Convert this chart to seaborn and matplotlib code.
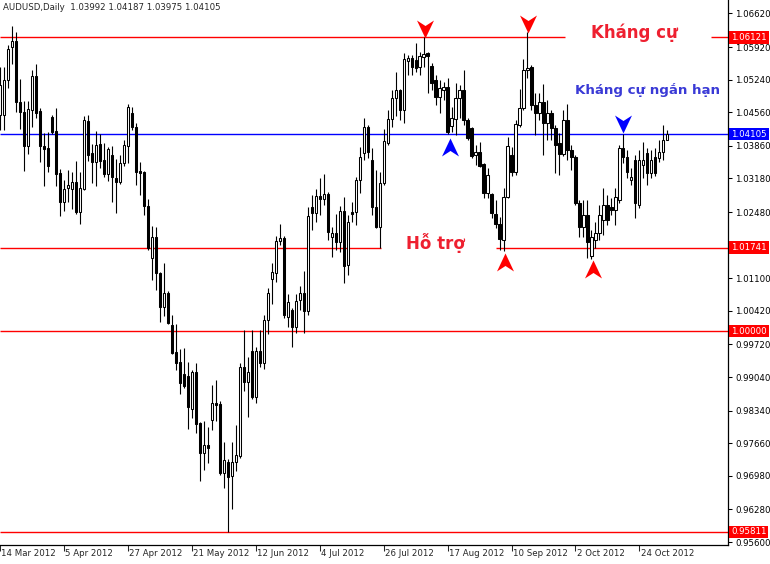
import numpy as np
import pandas as pd
import matplotlib
matplotlib.use("Agg")
import matplotlib.pyplot as plt
import matplotlib.transforms as mtransforms
from matplotlib.path import Path
import seaborn as sns

# AUDUSD daily candles, 14 Mar 2012 .. 2 Nov 2012
opens = [1.0450, 1.0450, 1.0523, 1.0592, 1.0604, 1.0477, 1.0457, 1.0386, 1.0461, 1.0531,
         1.0459, 1.0386, 1.0381, 1.0446, 1.0417, 1.0329, 1.0269, 1.0298, 1.0296, 1.0310,
         1.0248, 1.0296, 1.0438, 1.0371, 1.0352, 1.0390, 1.0356, 1.0327, 1.0367, 1.0319,
         1.0310, 1.0350, 1.0386, 1.0455, 1.0425, 1.0333, 1.0331, 1.0260, 1.0152, 1.0196,
         1.0121, 1.0050, 1.0079, 1.0013, 0.9956, 0.9935, 0.9910, 0.9906, 0.9837, 0.9915,
         0.9808, 0.9746, 0.9762, 0.9815, 0.9850, 0.9848, 0.9704, 0.9727, 0.9698, 0.9727,
         0.9740, 0.9925, 0.9894, 0.9958, 0.9862, 0.9958, 0.9933, 1.0023, 1.0108, 1.0121,
         1.0188, 1.0194, 1.0029, 1.0044, 1.0008, 1.0065, 1.0079, 1.0042, 1.0258, 1.0246,
         1.0281, 1.0275, 1.0286, 1.0196, 1.0204, 1.0185, 1.0250, 1.0138, 1.0248, 1.0248,
         1.0315, 1.0371, 1.0425, 1.0356, 1.0258, 1.0217, 1.0308, 1.0392, 1.0442, 1.0486,
         1.0502, 1.0461, 1.0563, 1.0569, 1.0565, 1.0550, 1.0571, 1.0579, 1.0552, 1.0523,
         1.0488, 1.0502, 1.0508, 1.0427, 1.0442, 1.0486, 1.0502, 1.0440, 1.0423, 1.0367,
         1.0373, 1.0348, 1.0288, 1.0286, 1.0244, 1.0223, 1.0190, 1.0279, 1.0367, 1.0331,
         1.0430, 1.0465, 1.0544, 1.0550, 1.0471, 1.0455, 1.0477, 1.0434, 1.0455, 1.0423,
         1.0392, 1.0369, 1.0440, 1.0377, 1.0363, 1.0267, 1.0217, 1.0242, 1.0156, 1.0190,
         1.0204, 1.0231, 1.0263, 1.0258, 1.0252, 1.0273, 1.0381, 1.0363, 1.0315, 1.0356,
         1.0263, 1.0346, 1.0371, 1.0329, 1.0363, 1.0361, 1.0373, 1.03992]
highs = [1.0550, 1.0550, 1.0596, 1.0636, 1.0623, 1.0525, 1.0479, 1.0479, 1.0544, 1.0556,
         1.0465, 1.0413, 1.0415, 1.0450, 1.0465, 1.0338, 1.0315, 1.0336, 1.0331, 1.0354,
         1.0331, 1.0448, 1.0450, 1.0390, 1.0417, 1.0411, 1.0392, 1.0383, 1.0386, 1.0358,
         1.0367, 1.0398, 1.0473, 1.0467, 1.0434, 1.0352, 1.0333, 1.0275, 1.0219, 1.0217,
         1.0123, 1.0142, 1.0083, 1.0033, 1.0015, 0.9962, 0.9965, 0.9935, 0.9919, 0.9933,
         0.9810, 0.9812, 0.9800, 0.9888, 0.9898, 0.9854, 0.9769, 0.9733, 0.9769, 0.9804,
         0.9933, 1.0002, 0.9946, 1.0002, 0.9967, 1.0002, 1.0033, 1.0090, 1.0142, 1.0198,
         1.0223, 1.0198, 1.0077, 1.0048, 1.0077, 1.0094, 1.0125, 1.0258, 1.0283, 1.0296,
         1.0319, 1.0327, 1.0290, 1.0217, 1.0244, 1.0260, 1.0279, 1.0242, 1.0269, 1.0321,
         1.0383, 1.0444, 1.0430, 1.0381, 1.0336, 1.0331, 1.0421, 1.0461, 1.0502, 1.0540,
         1.0504, 1.0579, 1.0575, 1.0575, 1.0600, 1.0581, 1.0612, 1.0581, 1.0558, 1.0533,
         1.0523, 1.0519, 1.0527, 1.0467, 1.0517, 1.0513, 1.0544, 1.0444, 1.0425, 1.0388,
         1.0394, 1.0350, 1.0340, 1.0288, 1.0273, 1.0238, 1.0298, 1.0404, 1.0383, 1.0440,
         1.0504, 1.0567, 1.0623, 1.0554, 1.0496, 1.0496, 1.0515, 1.0481, 1.0461, 1.0430,
         1.0413, 1.0461, 1.0473, 1.0388, 1.0367, 1.0273, 1.0273, 1.0273, 1.0210, 1.0227,
         1.0263, 1.0298, 1.0283, 1.0277, 1.0298, 1.0388, 1.0411, 1.0377, 1.0340, 1.0367,
         1.0377, 1.0394, 1.0381, 1.0377, 1.0381, 1.0398, 1.0430, 1.04187]
lows = [1.0419, 1.0419, 1.0506, 1.0556, 1.0457, 1.0421, 1.0333, 1.0369, 1.0425, 1.0444,
        1.0352, 1.0302, 1.0331, 1.0411, 1.0302, 1.0240, 1.0250, 1.0269, 1.0254, 1.0244,
        1.0223, 1.0294, 1.0354, 1.0308, 1.0302, 1.0340, 1.0321, 1.0313, 1.0269, 1.0246,
        1.0306, 1.0344, 1.0350, 1.0419, 1.0304, 1.0283, 1.0242, 1.0169, 1.0106, 1.0085,
        1.0019, 1.0031, 1.0015, 0.9952, 0.9919, 0.9869, 0.9881, 0.9796, 0.9819, 0.9787,
        0.9687, 0.9710, 0.9725, 0.9794, 0.9812, 0.9700, 0.9673, 0.9581, 0.9629, 0.9708,
        0.9735, 0.9875, 0.9821, 0.9858, 0.9850, 0.9925, 0.9921, 0.9994, 1.0056, 1.0102,
        1.0179, 1.0027, 1.0008, 0.9967, 0.9996, 1.0044, 0.9996, 1.0033, 1.0210, 1.0227,
        1.0242, 1.0263, 1.0190, 1.0154, 1.0169, 1.0165, 1.0100, 1.0117, 1.0227, 1.0221,
        1.0288, 1.0356, 1.0361, 1.0242, 1.0215, 1.0174, 1.0304, 1.0388, 1.0425, 1.0448,
        1.0440, 1.0434, 1.0533, 1.0533, 1.0540, 1.0533, 1.0550, 1.0496, 1.0502, 1.0471,
        1.0455, 1.0481, 1.0411, 1.0415, 1.0409, 1.0444, 1.0430, 1.0398, 1.0361, 1.0346,
        1.0342, 1.0277, 1.0277, 1.0235, 1.0215, 1.0169, 1.0167, 1.0277, 1.0323, 1.0325,
        1.0425, 1.0461, 1.0527, 1.0461, 1.0409, 1.0440, 1.0367, 1.0398, 1.0398, 1.0329,
        1.0325, 1.0365, 1.0356, 1.0336, 1.0263, 1.0196, 1.0196, 1.0152, 1.0150, 1.0173,
        1.0190, 1.0200, 1.0221, 1.0242, 1.0221, 1.0267, 1.0350, 1.0319, 1.0304, 1.0235,
        1.0256, 1.0319, 1.0304, 1.0319, 1.0323, 1.0352, 1.0356, 1.03975]
closes = [1.0513, 1.0523, 1.0588, 1.0604, 1.0477, 1.0457, 1.0386, 1.0463, 1.0531, 1.0455,
          1.0386, 1.0379, 1.0344, 1.0415, 1.0327, 1.0269, 1.0296, 1.0304, 1.0310, 1.0248,
          1.0298, 1.0440, 1.0367, 1.0352, 1.0388, 1.0354, 1.0327, 1.0379, 1.0321, 1.0310,
          1.0350, 1.0388, 1.0467, 1.0425, 1.0331, 1.0329, 1.0260, 1.0173, 1.0196, 1.0121,
          1.0050, 1.0079, 1.0017, 0.9954, 0.9933, 0.9892, 0.9885, 0.9842, 0.9915, 0.9806,
          0.9746, 0.9762, 0.9756, 0.9850, 0.9846, 0.9704, 0.9731, 0.9696, 0.9727, 0.9742,
          0.9925, 0.9894, 0.9915, 0.9862, 0.9958, 0.9933, 1.0023, 1.0079, 1.0123, 1.0188,
          1.0194, 1.0033, 1.0060, 1.0008, 1.0062, 1.0079, 1.0042, 1.0240, 1.0246, 1.0281,
          1.0275, 1.0286, 1.0206, 1.0204, 1.0185, 1.0250, 1.0136, 1.0227, 1.0244, 1.0315,
          1.0363, 1.0425, 1.0373, 1.0258, 1.0217, 1.0308, 1.0396, 1.0442, 1.0486, 1.0502,
          1.0461, 1.0567, 1.0569, 1.0550, 1.0548, 1.0573, 1.0577, 1.0573, 1.0517, 1.0488,
          1.0506, 1.0508, 1.0415, 1.0444, 1.0486, 1.0502, 1.0440, 1.0402, 1.0365, 1.0373,
          1.0344, 1.0288, 1.0325, 1.0246, 1.0223, 1.0192, 1.0279, 1.0386, 1.0331, 1.0432,
          1.0465, 1.0544, 1.0548, 1.0471, 1.0455, 1.0477, 1.0434, 1.0455, 1.0423, 1.0388,
          1.0369, 1.0440, 1.0377, 1.0363, 1.0267, 1.0217, 1.0242, 1.0185, 1.0196, 1.0204,
          1.0242, 1.0263, 1.0231, 1.0252, 1.0279, 1.0381, 1.0363, 1.0331, 1.0321, 1.0267,
          1.0356, 1.0356, 1.0329, 1.0356, 1.0329, 1.0373, 1.0398, 1.04105]

date_labels = ["14 Mar 2012", "5 Apr 2012", "27 Apr 2012", "21 May 2012", "12 Jun 2012",
               "4 Jul 2012", "26 Jul 2012", "17 Aug 2012", "10 Sep 2012", "2 Oct 2012",
               "24 Oct 2012"]
date_bars = [0, 16, 32, 48, 64, 80, 96, 112, 128, 144, 160]

price_ticks = [1.0662, 1.0592, 1.0524, 1.0456, 1.0386, 1.0318, 1.0248, 1.0180, 1.0110,
               1.0042, 0.9972, 0.9904, 0.9834, 0.9766, 0.9698, 0.9628, 0.9560]
# 1.01800 sits under the 1.01741 price box, so its label is left blank
price_labels = ["1.06620", "1.05920", "1.05240", "1.04560", "1.03860", "1.03180", "1.02480",
                "", "1.01100", "1.00420", "0.99720", "0.99040", "0.98340", "0.97660",
                "0.96980", "0.96280", "0.95600"]

# horizontal levels and where each one is drawn (gaps leave room for the notes)
levels = [1.06121, 1.04105, 1.01741, 1.00000, 0.95811]
level_colors = ["#ff0000", "#0000ff", "#ff0000", "#ff0000", "#ff0000"]
level_spans = [[(0, 141.4), (177.9, 183)], [(0, 183)], [(0, 95.4), (124.2, 183)],
               [(0, 183)], [(0, 183)]]

# arrow objects: bar, tip price, pointing down?, colour
arrow_bars = [106.3, 132.1, 112.7, 156.0, 126.4, 148.4]
arrow_prices = [1.0611, 1.0621, 1.0402, 1.0413, 1.0163, 1.0148]
arrow_down = [True, True, False, True, False, False]
arrow_colors = ["#ff0000", "#ff0000", "#0000ff", "#0000ff", "#ff0000", "#ff0000"]

notes = ["Kháng cự", "Kháng cự ngắn hạn", "Hỗ trợ"]
note_bars = [158.8, 162.0, 109.0]
note_prices = [1.0610, 1.0495, 1.0171]
note_colors = ["#ee2030", "#3a3ad6", "#ee2030"]
note_sizes = [12, 9.6, 12]

title = "AUDUSD,Daily  1.03992 1.04187 1.03975 1.04105"

df = pd.DataFrame({"open": opens, "high": highs, "low": lows, "close": closes})
df["bar"] = np.arange(len(df))
up = df["close"] >= df["open"]

sns.set_style("white")
plt.rcParams["font.family"] = ["DejaVu Sans"]

fig = plt.figure(figsize=(7.7, 5.64), dpi=100)
ax = fig.add_axes([0, 19 / 564, 728 / 770, 545 / 564])

# levels
for lv, col, spans in zip(levels, level_colors, level_spans):
    for a, b in spans:
        ax.hlines(lv, a, b, color=col, linewidth=1.0, zorder=1)

# candles
ax.vlines(df["bar"], df["low"], df["high"], color="black", linewidth=0.8, zorder=2)
ax.bar(df["bar"], df["close"] - df["open"], bottom=df["open"], width=0.55,
       color=np.where(up, "white", "black"), edgecolor="black", linewidth=0.75, zorder=3)

# arrows
down_marker = Path([(0, 0), (8.5, 18), (0, 12.5), (-8.5, 18), (0, 0)],
                   [Path.MOVETO, Path.LINETO, Path.LINETO, Path.LINETO, Path.CLOSEPOLY])
up_marker = Path([(0, 0), (8.5, -18), (0, -12.5), (-8.5, -18), (0, 0)],
                 [Path.MOVETO, Path.LINETO, Path.LINETO, Path.LINETO, Path.CLOSEPOLY])
for x, y, d, col in zip(arrow_bars, arrow_prices, arrow_down, arrow_colors):
    ax.scatter([x], [y], s=670, marker=down_marker if d else up_marker,
               color=col, linewidths=0, zorder=5)

# notes
for s, x, y, col, fs in zip(notes, note_bars, note_prices, note_colors, note_sizes):
    ax.text(x, y, s, color=col, fontsize=fs, fontweight="bold", ha="center", va="baseline",
            zorder=5)

ax.set_xlim(0.175, 182.175)
ax.set_ylim(0.9554, 1.0690)

for side in ["left", "top"]:
    ax.spines[side].set_visible(False)
for side in ["right", "bottom"]:
    ax.spines[side].set_visible(True)
    ax.spines[side].set_color("black")
    ax.spines[side].set_linewidth(0.9)

ax.yaxis.tick_right()
ax.set_yticks(price_ticks)
ax.set_yticklabels(price_labels)
ax.tick_params(axis="y", right=True, left=False, direction="out", length=3, width=0.75,
               pad=2, labelsize=6.2, colors="black")
ax.set_xticks(date_bars)
ax.set_xticklabels([])
ax.tick_params(axis="x", bottom=True, direction="out", length=4, width=0.75)

xtrans = mtransforms.blended_transform_factory(ax.transData, ax.transAxes)
for b, lab in zip(date_bars, date_labels):
    ax.text(b + 0.3, -8 / 545, lab, transform=xtrans, ha="left", va="center",
            fontsize=6.2, clip_on=False)

ytrans = mtransforms.blended_transform_factory(ax.transAxes, ax.transData)
for lv, col in zip(levels, level_colors):
    ax.text(1 + 3 / 728, lv, f"{lv:.5f}", transform=ytrans, ha="left", va="center",
            fontsize=6.2, color="white", clip_on=False, zorder=6,
            bbox=dict(boxstyle="square,pad=0.22", fc=col, ec="none"))

fig.text(3 / 770, 1 - 7.5 / 564, title, fontsize=6.2, va="center", ha="left")

fig.savefig("out.png", dpi=100)
